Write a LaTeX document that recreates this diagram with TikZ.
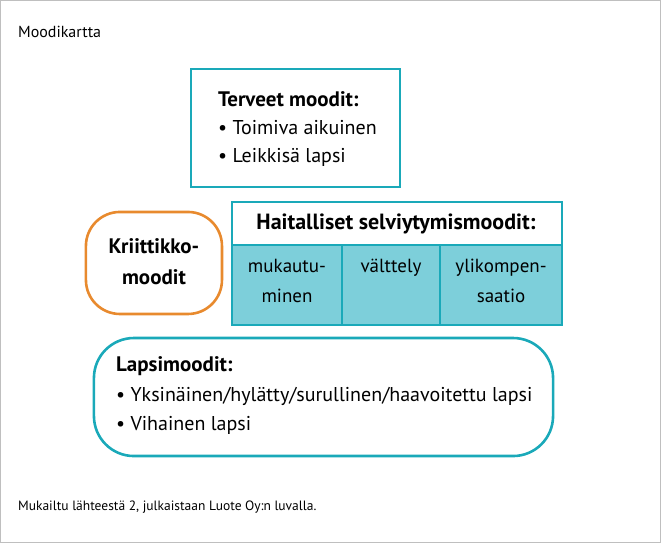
\documentclass[tikz,border=0pt]{standalone}
\usepackage{fontspec}
\setmainfont{PT Sans}
\definecolor{teal}{HTML}{1AA9B9}
\definecolor{cell}{HTML}{7DCFDA}
\definecolor{orng}{HTML}{E88A2E}
\begin{document}
\begin{tikzpicture}[x=1pt,y=-1pt,
  txt/.style={anchor=west,inner sep=0pt,font=\fontsize{20}{22}\selectfont},
  hdr/.style={anchor=west,inner sep=0pt,font=\fontsize{21}{22}\selectfont\bfseries},
  box/.style={draw=teal,line width=2.6pt}]
\path[draw=black!25,line width=0.8pt] (0.5,0.5) rectangle (660.5,542.5);
\node[anchor=west,inner sep=0pt,font=\fontsize{16}{18}\selectfont] (title) at (18,32) {Moodikartta};
% Terveet
\draw[box] (191,69) rectangle (400,187);
\node[hdr] (t1) at (218,99) {Terveet moodit:};
\node[txt] (t2) at (218,128) {• Toimiva aikuinen};
\node[txt] (t3) at (218,157) {• Leikkisä lapsi};
% Kriittikko
\draw[draw=orng,line width=2.6pt,rounded corners=34pt] (86,212) rectangle (222,314);
\node[align=center,inner sep=0pt,font=\fontsize{21}{31}\selectfont\bfseries] (k) at (154,262) {Kriittikko-\\moodit};
% Haitalliset
\fill[cell] (232,245) rectangle (562,325);
\draw[box] (232,202) rectangle (562,325);
\draw[box] (232,245) -- (562,245);
\draw[box] (342,245) -- (342,325);
\draw[box] (440,245) -- (440,325);
\node[inner sep=0pt,font=\fontsize{22}{22}\selectfont\bfseries] (h) at (396,224) {Haitalliset selviytymismoodit:};
\node[align=center,anchor=north,inner sep=0pt,font=\fontsize{19}{30}\selectfont] (c1) at (287,259) {mukautu-\\minen};
\node[align=center,anchor=north,inner sep=0pt,font=\fontsize{19}{30}\selectfont] (c2) at (391,259) {välttely};
\node[align=center,anchor=north,inner sep=0pt,font=\fontsize{19}{30}\selectfont] (c3) at (501,259) {ylikompen-\\saatio};
% Lapsimoodit
\draw[box,rounded corners=40pt] (94,338) rectangle (553,456);
\node[hdr] (l1) at (116,366) {Lapsimoodit:};
\node[txt] (l2) at (116,396) {• Yksinäinen/hylätty/surullinen/haavoitettu lapsi};
\node[txt] (l3) at (116,425) {• Vihainen lapsi};
\node[anchor=west,inner sep=0pt,font=\fontsize{13.5}{16}\selectfont] (foot) at (18,507) {Mukailtu lähteestä 2, julkaistaan Luote Oy:n luvalla.};
\end{tikzpicture}
\end{document}
